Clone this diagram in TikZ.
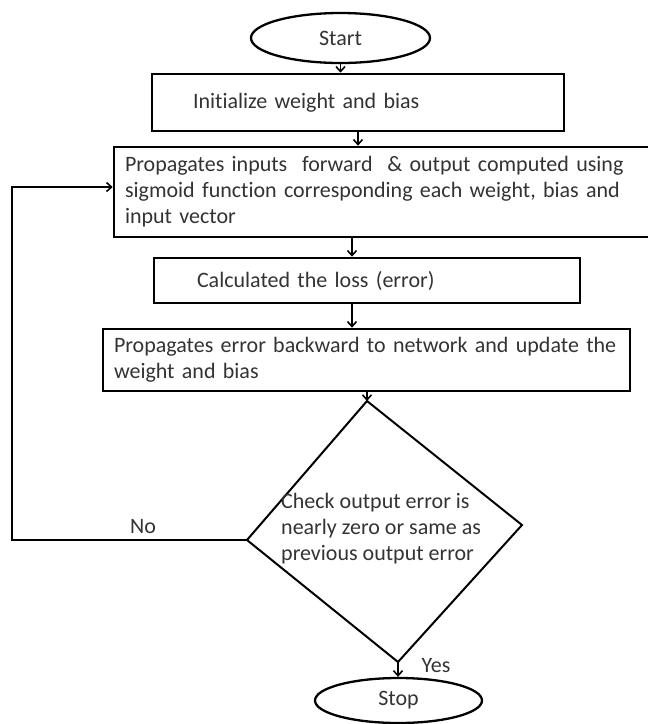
\documentclass[tikz,border=0pt]{standalone}
\usepackage{fontspec}
\setmainfont[Ligatures=NoCommon]{Carlito}
\usetikzlibrary{positioning}
\usetikzlibrary{shapes.geometric}
\usetikzlibrary{arrows.meta}

\begin{document}
\begin{tikzpicture}[x=1pt, y=-1pt,
		box/.style={draw, line width=2.6pt, rectangle, inner ysep=0pt, align=left,
			font=\fontsize{22}{26}\selectfont, text=black!80},
		term/.style={draw, line width=2.3pt, ellipse, inner sep=0pt,
			font=\fontsize{22}{26}\selectfont, text=black!80},
		lbl/.style={inner sep=0pt, font=\fontsize{22}{26}\selectfont, text=black!80},
		arr/.style={line width=1.6pt, -{Straight Barb[length=5pt, width=9pt]}}
	]
	\useasboundingbox (0,0) rectangle (648,724);
	% terminals
	\node[term, minimum width=179pt, minimum height=50pt] (start) at (340.5,38) {Start};
	\node[term, minimum width=167pt, minimum height=45pt] (stop) at (398.5,700.5) {Stop};
	% process boxes
	\node[box, minimum width=412pt, minimum height=57pt, inner xsep=41pt, text width=330pt] (init) at (358,102.5)
		{Initialize weight and bias};
	\node[box, minimum width=538pt, minimum height=90pt, inner xsep=11pt, text width=516pt] (fwd) at (383,192)
		{Propagates inputs\ \ forward\ \ \& output computed using\\
			sigmoid function corresponding\ each weight, bias and\\
			input vector};
	\node[box, minimum width=426pt, minimum height=45pt, inner xsep=43pt, text width=340pt] (loss) at (367,280.5)
		{Calculated the loss (error)};
	\node[box, minimum width=527pt, minimum height=62pt, inner xsep=11pt, text width=505pt] (back) at (366.5,360)
		{Propagates error backward to network and update the\\
			weight and bias};
	% decision
	\node[shape=coordinate] (dtop)   at (367,401) {};
	\node[shape=coordinate] (dright) at (522,525) {};
	\node[shape=coordinate] (dbot)   at (398,662) {};
	\node[shape=coordinate] (dleft)  at (247,540) {};
	\node[shape=coordinate] (loopc)  at (12,540) {};
	\draw[line width=2pt] (dtop) -- (dright) -- (dbot) -- (dleft) -- cycle;
	\node[lbl, align=left, anchor=west] (check) at (281,529)
		{Check output error is\\ nearly zero or same as\\ previous output error};
	\node[lbl] (no) at (143,527) {No};
	\node[lbl] (yes) at (436,666) {Yes};
	% connectors
	\draw[arr] (start.south) -- (start.south |- init.north);
	\draw[arr] (init.south) -- (init.south |- fwd.north);
	\draw[arr] ([xshift=-15pt]loss.north |- fwd.south) -- ([xshift=-15pt]loss.north);
	\draw[arr] ([xshift=-15pt]loss.south) -- ([xshift=-15pt]loss.south |- back.north);
	\draw[arr] (dtop |- back.south) -- (dtop);
	\draw[arr] (dbot) -- (dbot |- stop.north);
	\draw[arr] (dleft) -- (loopc) |- ([yshift=5pt]fwd.west);
\end{tikzpicture}
\end{document}
